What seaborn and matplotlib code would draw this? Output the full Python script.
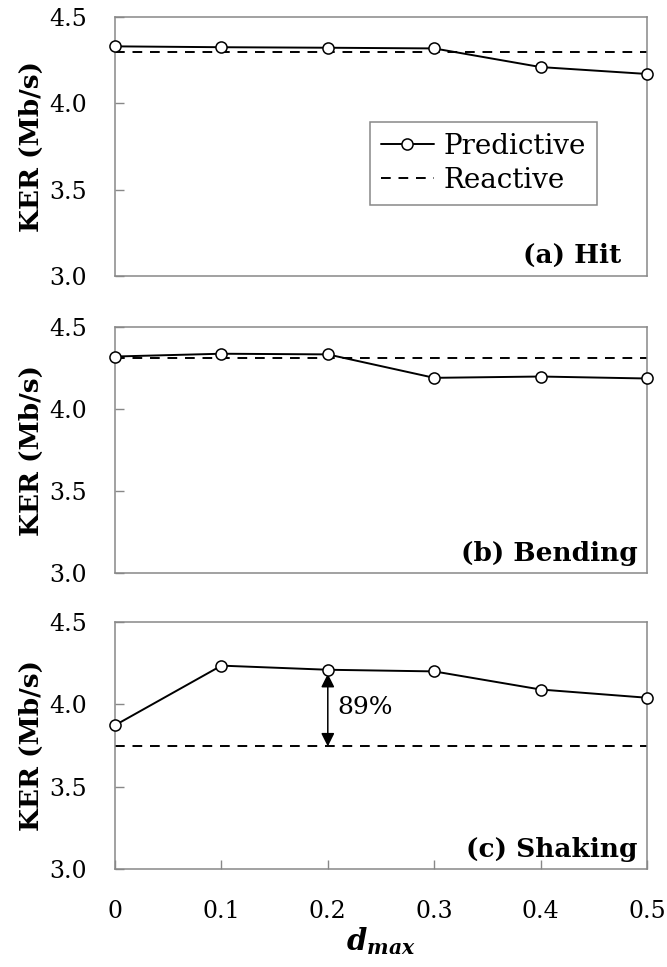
import numpy as np
import pandas as pd
import matplotlib
matplotlib.use("Agg")
import matplotlib.pyplot as plt
import seaborn as sns

# ---- data ----
d_max = [0.0, 0.1, 0.2, 0.3, 0.4, 0.5]
x_tick_labels = ["0", "0.1", "0.2", "0.3", "0.4", "0.5"]
y_ticks = [3.0, 3.5, 4.0, 4.5]
hit_predictive = [4.33, 4.325, 4.322, 4.318, 4.21, 4.17]
hit_reactive = 4.30
bending_predictive = [4.32, 4.337, 4.333, 4.19, 4.198, 4.186]
bending_reactive = 4.31
shaking_predictive = [3.873, 4.235, 4.21, 4.20, 4.09, 4.04]
shaking_reactive = 3.744
panel_titles = ["(a) Hit", "(b) Bending", "(c) Shaking"]
annotation_text = "89%"

sns.set_theme(style="white")
plt.rcParams["font.family"] = ["DejaVu Serif"]
plt.rcParams["mathtext.fontset"] = "dejavuserif"

fig = plt.figure(figsize=(6.67, 9.67), dpi=100)
W, H = 667.0, 967.0
boxes = [(115, 17, 647, 276), (115, 327, 647, 573), (115, 622, 647, 869)]
axes = [fig.add_axes([l / W, 1 - b / H, (r - l) / W, (b - t) / H]) for (l, t, r, b) in boxes]

series = [(hit_predictive, hit_reactive), (bending_predictive, bending_reactive),
          (shaking_predictive, shaking_reactive)]
title_x = [0.952, 0.982, 0.983]

for i, (ax, (pred, react), title) in enumerate(zip(axes, series, panel_titles)):
    df = pd.DataFrame({"d": d_max, "Predictive": pred, "Reactive": [react] * len(d_max)})
    sns.lineplot(data=df, x="d", y="Reactive", ax=ax, color="black", linewidth=1.4,
                 linestyle=(0, (5, 4)), label="Reactive", clip_on=False)
    sns.lineplot(data=df, x="d", y="Predictive", ax=ax, color="black", linewidth=1.4,
                 marker="o", markersize=8, markerfacecolor="white",
                 markeredgecolor="black", markeredgewidth=1.1, label="Predictive",
                 clip_on=False, zorder=5)
    ax.set_xlim(0, 0.5)
    ax.set_ylim(3.0, 4.5)
    ax.set_yticks(y_ticks)
    ax.set_yticklabels([f"{v:.1f}" for v in y_ticks], fontsize=17)
    ax.set_xticks(d_max)
    if i == 2:
        ax.set_xticklabels(x_tick_labels, fontsize=17)
        ax.set_xlabel(r"$\mathbfit{d}_{\mathbfit{max}}$", fontsize=21, labelpad=2)
        ax.tick_params(axis="x", length=6.5, width=1, color="#888888", direction="in",
                       pad=22, bottom=True)
    else:
        ax.set_xticklabels([])
        ax.set_xlabel("")
        ax.tick_params(axis="x", length=0)
    ax.tick_params(axis="y", length=6.5, width=1, color="#888888", direction="in", pad=20,
                   left=True)
    ax.set_ylabel("KER (Mb/s)", fontsize=19, fontweight="bold", labelpad=4)
    for sp in ax.spines.values():
        sp.set_color("#888888")
        sp.set_linewidth(1.1)
    ax.text(title_x[i], 0.05, title, transform=ax.transAxes, ha="right", va="baseline",
            fontsize=19, fontweight="bold", color="black")
    if i == 0:
        h, l = ax.get_legend_handles_labels()
        order = [l.index("Predictive"), l.index("Reactive")]
        leg = ax.legend([h[k] for k in order], [l[k] for k in order],
                        loc="upper left", bbox_to_anchor=(0.479, 0.595), borderaxespad=0,
                        fontsize=20, frameon=True, fancybox=False, framealpha=1,
                        edgecolor="#888888", handlelength=1.9, handletextpad=0.35,
                        labelspacing=0.25, borderpad=0.4)
        leg.get_frame().set_linewidth(1.1)
        for t in leg.get_texts():
            t.set_color("black")
    else:
        if ax.get_legend() is not None:
            ax.get_legend().remove()
    for t in ax.get_yticklabels() + ax.get_xticklabels():
        t.set_color("black")
    ax.yaxis.label.set_color("black")
    ax.xaxis.label.set_color("black")

# annotation in shaking panel
ax = axes[2]
ax.annotate("", xy=(d_max[2], 4.185), xytext=(d_max[2], shaking_reactive),
            arrowprops=dict(arrowstyle="<|-|>", color="black", lw=1.1,
                            mutation_scale=20, shrinkA=0, shrinkB=0))
ax.text(d_max[2] + 0.0086, 3.979, annotation_text, fontsize=18, ha="left", va="center",
        color="black")

fig.savefig("out.png", dpi=100, facecolor="white")
